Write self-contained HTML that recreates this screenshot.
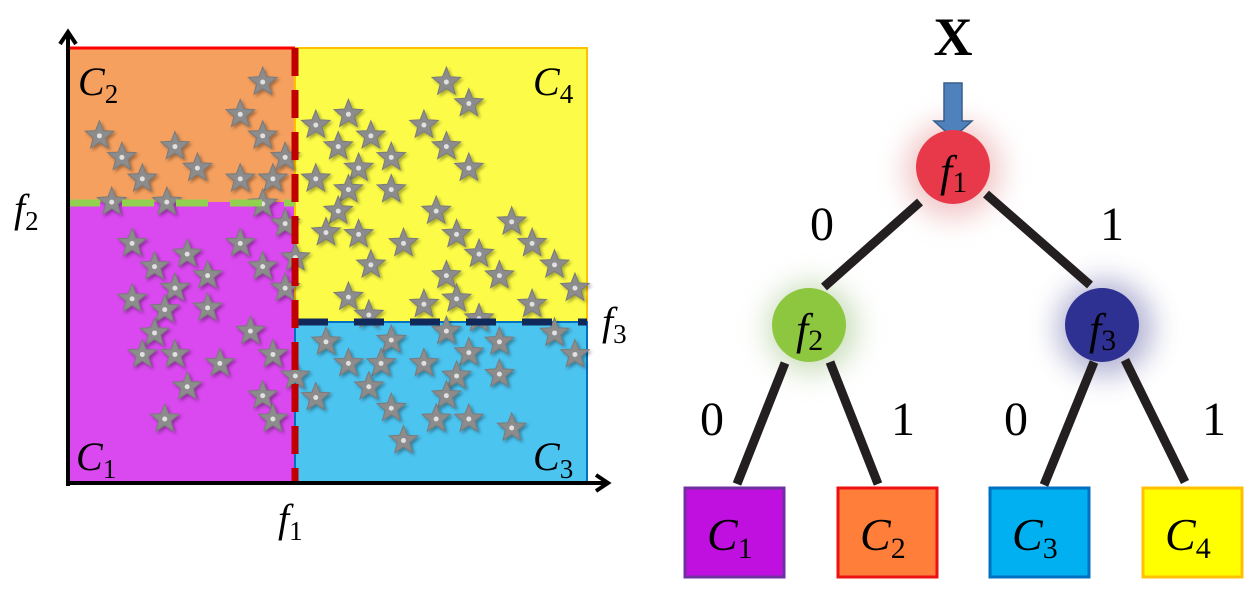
<!DOCTYPE html>
<html><head><meta charset="utf-8"><style>
html,body{margin:0;padding:0;background:#fff;width:1260px;height:597px;overflow:hidden}
svg text{font-family:"Liberation Serif",serif}
</style></head><body>
<svg id="fig" width="1260" height="597" viewBox="0 0 1260 597" xmlns="http://www.w3.org/2000/svg">
<defs>
<filter id="sh" x="-50%" y="-50%" width="200%" height="200%"><feDropShadow dx="2" dy="2" stdDeviation="1.5" flood-color="#000" flood-opacity="0.35"/></filter>
<filter id="glow" x="-100%" y="-100%" width="300%" height="300%"><feGaussianBlur stdDeviation="14"/></filter>
</defs>
<g>
<rect x="68" y="48" width="227" height="154" fill="#f5a05f"/>
<rect x="68" y="202" width="227" height="281" fill="#da48f0"/>
<rect x="295" y="48" width="292" height="274" fill="#fcfc48" stroke="#ffc000" stroke-width="2"/>
<rect x="295" y="322" width="292" height="161" fill="#4cc4f0" stroke="#0070c0" stroke-width="2"/>
<line x1="68" y1="48" x2="295" y2="48" stroke="#ff0000" stroke-width="3"/>
<g id="stars"></g>
<line x1="68" y1="203" x2="295" y2="203" stroke="#92d050" stroke-width="7" stroke-dasharray="32 22"/>
<line x1="298" y1="322" x2="587" y2="322" stroke="#10285a" stroke-width="7" stroke-dasharray="30 26"/>
<line x1="295" y1="48" x2="295" y2="483" stroke="#c00000" stroke-width="7" stroke-dasharray="28 14"/>
<line x1="68" y1="486" x2="68" y2="34" stroke="#000" stroke-width="4"/>
<polyline points="60,44 68,32 76,44" fill="none" stroke="#000" stroke-width="4"/>
<line x1="66" y1="483" x2="606" y2="483" stroke="#000" stroke-width="4"/>
<polyline points="596,475 608,483 596,491" fill="none" stroke="#000" stroke-width="4"/>
<text x="78" y="95" font-size="40" font-style="italic">C<tspan font-size="27" font-style="normal" dy="8">2</tspan></text>
<text x="533" y="95" font-size="40" font-style="italic">C<tspan font-size="27" font-style="normal" dy="8">4</tspan></text>
<text x="76" y="470" font-size="40" font-style="italic">C<tspan font-size="27" font-style="normal" dy="8">1</tspan></text>
<text x="533" y="470" font-size="40" font-style="italic">C<tspan font-size="27" font-style="normal" dy="8">3</tspan></text>
<text x="14" y="222" font-size="40" font-style="italic">f<tspan font-size="27" font-style="normal" dy="8">2</tspan></text>
<text x="602" y="335" font-size="40" font-style="italic">f<tspan font-size="27" font-style="normal" dy="8">3</tspan></text>
<text x="278" y="532" font-size="40" font-style="italic">f<tspan font-size="27" font-style="normal" dy="8">1</tspan></text>
</g>
<g>
<circle cx="953" cy="170" r="48" fill="#e8a0a0" opacity="0.6" filter="url(#glow)"/>
<circle cx="812" cy="328" r="45" fill="#a8c890" opacity="0.6" filter="url(#glow)"/>
<circle cx="1105" cy="328" r="48" fill="#8080b8" opacity="0.6" filter="url(#glow)"/>
<text x="953" y="55" font-size="54" font-weight="bold" text-anchor="middle">X</text>
<polygon points="944,83 962,83 962,121 972,121 953,138 934,121 944,121" fill="#4f81bd" stroke="#385d8a" stroke-width="1.5"/>
<g stroke="#231f20" stroke-width="9">
<line x1="920" y1="202" x2="824" y2="287"/>
<line x1="986" y1="194" x2="1090" y2="285"/>
<line x1="785" y1="363" x2="737" y2="484"/>
<line x1="830" y1="362" x2="878" y2="484"/>
<line x1="1094" y1="362" x2="1044" y2="485"/>
<line x1="1125" y1="360" x2="1185" y2="482"/>
</g>
<circle cx="953" cy="167" r="37" fill="#e8394a"/>
<circle cx="809" cy="325" r="37" fill="#8dc63f"/>
<circle cx="1102" cy="325" r="37" fill="#2e3192"/>
<text x="940" y="186" font-size="44" font-style="italic">f<tspan font-size="30" font-style="normal" dy="6">1</tspan></text>
<text x="796" y="344" font-size="44" font-style="italic">f<tspan font-size="30" font-style="normal" dy="6">2</tspan></text>
<text x="1089" y="344" font-size="44" font-style="italic">f<tspan font-size="30" font-style="normal" dy="6">3</tspan></text>
<g font-size="48" text-anchor="middle">
<text x="822" y="240">0</text>
<text x="1112" y="240">1</text>
<text x="712" y="435">0</text>
<text x="903" y="435">1</text>
<text x="1016" y="435">0</text>
<text x="1214" y="435">1</text>
</g>
<rect x="685" y="488" width="99" height="89" fill="#c010e0" stroke="#7030a0" stroke-width="3"/>
<rect x="838" y="488" width="99" height="89" fill="#ff7f3a" stroke="#ee1111" stroke-width="3"/>
<rect x="990" y="488" width="99" height="89" fill="#00b0f0" stroke="#0070c0" stroke-width="3"/>
<rect x="1143" y="488" width="99" height="89" fill="#ffff00" stroke="#ffc000" stroke-width="3"/>
<g font-size="46" font-style="italic">
<text x="707" y="550">C<tspan font-size="30" font-style="normal" dy="8">1</tspan></text>
<text x="860" y="550">C<tspan font-size="30" font-style="normal" dy="8">2</tspan></text>
<text x="1012" y="550">C<tspan font-size="30" font-style="normal" dy="8">3</tspan></text>
<text x="1165" y="550">C<tspan font-size="30" font-style="normal" dy="8">4</tspan></text>
</g>
</g>
</svg>
<script>
const starX = [645,590,645,245,300,430,485,350,590,670,700,275,410,645,
700,325,460,590,380,510,645,430,325,700,405,510,380,615,350,430,670,540,725,460,645,670,405,725,
1095,1150,775,855,1040,910,830,1095,960,880,1150,775,855,960,830,1070,800,880,1120,1255,990,1305,1175,910,1360,1095,1225,1410,855,1120,1040,1305,905,
800,960,1095,1175,1225,1360,1410,855,935,1040,1150,1120,1225,905,775,1095,960,1070,1150,1255,990];
const starY = [180,270,330,330,390,360,420,450,450,450,390,515,515,520,
575,630,660,630,695,720,695,755,785,755,815,810,880,875,940,940,940,965,1000,1030,1055,1120,1120,670,
180,240,300,270,300,330,360,360,390,420,420,450,480,480,540,540,600,605,605,570,630,630,660,690,690,720,720,755,780,785,800,800,830,
905,900,875,840,905,880,940,965,965,965,935,1000,995,1030,1060,1055,1090,1120,1120,1145,1180];
function sx(v){return 68+(v-168)/2.45;}
function sy(v){return 48+(v-85)/2.79;}
const g=document.getElementById('stars');
const NS='http://www.w3.org/2000/svg';
function starPts(cx,cy,R,r){let p=[];for(let i=0;i<10;i++){const a=-Math.PI/2+i*Math.PI/5;const rr=i%2?r:R;p.push((cx+rr*Math.cos(a)).toFixed(1)+','+(cy+rr*Math.sin(a)).toFixed(1));}return p.join(' ');}
for(let i=0;i<starX.length;i++){
  const cx=sx(starX[i]),cy=sy(starY[i]);
  const s=document.createElementNS(NS,'polygon');
  s.setAttribute('points',starPts(cx,cy,15,6.5));
  s.setAttribute('fill','#8c8c8c');
  s.setAttribute('stroke','#7a7a7a');
  s.setAttribute('filter','url(#sh)');
  
  
  g.appendChild(s);
  const d=document.createElementNS(NS,'circle');
  d.setAttribute('cx',cx);d.setAttribute('cy',cy);d.setAttribute('r',2.5);d.setAttribute('fill','#e0e0e0');
  
  
  g.appendChild(d);
}
</script>
</body></html>
